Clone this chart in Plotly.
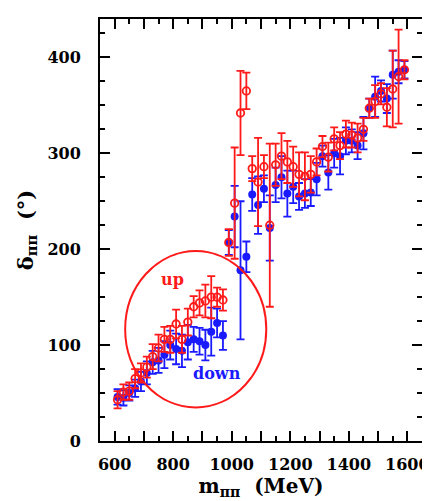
import plotly.graph_objects as go

# ---- data ----
mass = [610, 630, 650, 670, 690, 710, 730, 750, 770, 790,
        810, 830, 850, 870, 890, 910, 930, 950, 970, 990,
        1010, 1030, 1050, 1070, 1090, 1110, 1130, 1150, 1170, 1190,
        1210, 1230, 1250, 1270, 1290, 1310, 1330, 1350, 1370, 1390,
        1410, 1430, 1450, 1470, 1490, 1510, 1530, 1550, 1570, 1590]

up_delta = [43, 51, 52, 65, 71, 77, 88, 97, 106, 106,
            122, 106, 124, 140, 144, 146, 150, 150, 147, 207,
            248, 342, 365, 284, 270, 286, 225, 288, 297, 291,
            286, 278, 276, 278, 291, 307, 296, 315, 308, 320,
            319, 316, 325, 347, 354, 362, 348, 367, 380, 387]
up_err = [9, 8, 9, 10, 10, 11, 13, 14, 13, 14,
          15, 14, 14, 11, 13, 17, 22, 10, 11, 14,
          58, 44, 19, 13, 46, 12, 85, 22, 24, 22,
          21, 23, 25, 19, 14, 11, 15, 12, 14, 14,
          13, 15, 12, 10, 17, 11, 20, 40, 49, 10]

down_delta = [46, 45, 50, 55, 62, 71, 82, 84, 90, 100,
              96, 94, 103, 106, 104, 100, 114, 123, 110, 207,
              234, 178, 192, 257, 246, 263, 222, 267, 275, 258,
              265, 255, 258, 259, 273, 297, 280, 300, 297, 313,
              313, 308, 321, 347, 359, 365, 357, 382, 385, 387]
down_err = [8, 8, 8, 9, 10, 12, 12, 13, 14, 15,
            16, 17, 18, 13, 14, 16, 25, 15, 15, 13,
            32, 72, 16, 17, 30, 14, 34, 18, 22, 24,
            17, 14, 15, 14, 17, 11, 18, 15, 19, 14,
            12, 14, 17, 10, 21, 11, 15, 25, 12, 9]

x_tick_vals = [600, 700, 800, 900, 1000, 1100, 1200, 1300, 1400, 1500, 1600]
x_tick_text = ["600", "", "800", "", "1000", "", "1200", "", "1400", "", "1600"]
y_tick_vals = [0, 100, 200, 300, 400]
y_tick_text = ["0", "100", "200", "300", "400"]

RED = "#ff1a1a"
BLUE = "#1a1aff"
FONT = "DejaVu Serif"

fig = go.Figure()
fig.add_trace(go.Scatter(
    x=mass, y=down_delta, mode="markers", name="down",
    marker=dict(symbol="circle", size=8, color=BLUE),
    error_y=dict(type="data", array=down_err, color=BLUE, thickness=1.8, width=4),
))
fig.add_trace(go.Scatter(
    x=mass, y=up_delta, mode="markers", name="up",
    marker=dict(symbol="circle-open", size=7.5, color=RED, line=dict(width=1.8, color=RED)),
    error_y=dict(type="data", array=up_err, color=RED, thickness=1.8, width=4),
))

fig.add_shape(type="circle", xref="x", yref="y", x0=636, x1=1118, y0=35, y1=198,
              line=dict(color=RED, width=2))

fig.add_annotation(x=796, y=168, text="up", showarrow=False, xref="x", yref="y",
                   font=dict(family=FONT, size=16, color=RED, weight="bold"))
fig.add_annotation(x=948, y=70, text="down", showarrow=False, xref="x", yref="y",
                   font=dict(family=FONT, size=16, color=BLUE, weight="bold"))

axis_common = dict(
    showgrid=False, zeroline=False, showline=True, linecolor="black", linewidth=2,
    mirror="allticks", ticks="inside", ticklen=10, tickwidth=1.5, tickcolor="black",
    tickfont=dict(family=FONT, size=16, color="black", weight="bold"),
)

fig.update_xaxes(
    range=[550, 1650], tickmode="array", tickvals=x_tick_vals, ticktext=x_tick_text,
    minor=dict(dtick=50, tick0=550, ticks="inside", ticklen=5, tickwidth=1.5, tickcolor="black"),
    title=dict(text="m<sub>ππ</sub>  (MeV)", font=dict(family=FONT, size=20, color="black", weight="bold"),
               standoff=0),
    ticklabelstandoff=8,
    **axis_common,
)
fig.update_yaxes(
    range=[0, 440], tickmode="array", tickvals=y_tick_vals, ticktext=y_tick_text,
    minor=dict(dtick=25, tick0=0, ticks="inside", ticklen=5, tickwidth=1.5, tickcolor="black"),
    title=dict(text="δ<sub>ππ</sub>  (°)", font=dict(family=FONT, size=21, color="black", weight="bold"),
               standoff=8),
    ticklabelstandoff=14,
    **axis_common,
)

fig.update_layout(
    width=430, height=501,
    margin=dict(l=92, r=9, t=9, b=68),
    paper_bgcolor="white", plot_bgcolor="white",
    showlegend=False,
)

fig.write_html("out.html")
